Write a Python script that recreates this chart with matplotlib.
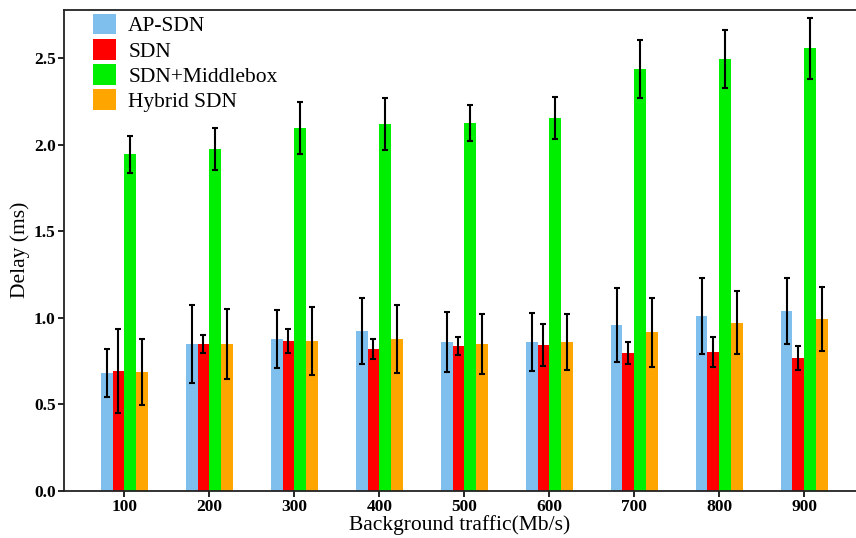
import matplotlib
matplotlib.use("Agg")
import matplotlib.pyplot as plt
import numpy as np

categories = ["100", "200", "300", "400", "500", "600", "700", "800", "900"]
series_names = ["AP-SDN", "SDN", "SDN+Middlebox", "Hybrid SDN"]

ap_sdn = [0.682, 0.849, 0.878, 0.924, 0.861, 0.861, 0.959, 1.011, 1.040]
ap_sdn_err = [0.140, 0.226, 0.166, 0.190, 0.175, 0.170, 0.216, 0.222, 0.190]
sdn = [0.693, 0.849, 0.867, 0.820, 0.838, 0.843, 0.797, 0.803, 0.768]
sdn_err = [0.245, 0.054, 0.070, 0.060, 0.054, 0.120, 0.062, 0.086, 0.068]
sdn_mb = [1.947, 1.976, 2.097, 2.120, 2.127, 2.155, 2.438, 2.496, 2.559]
sdn_mb_err = [0.107, 0.124, 0.152, 0.152, 0.103, 0.123, 0.169, 0.170, 0.176]
hybrid = [0.687, 0.849, 0.867, 0.878, 0.849, 0.861, 0.918, 0.971, 0.994]
hybrid_err = [0.190, 0.200, 0.198, 0.199, 0.172, 0.163, 0.200, 0.182, 0.184]

values = [ap_sdn, sdn, sdn_mb, hybrid]
errors = [ap_sdn_err, sdn_err, sdn_mb_err, hybrid_err]
colors = ["#7fbfee", "#ff0000", "#00ee00", "#ffa500"]

plt.rcParams['font.family'] = ['Liberation Serif', 'DejaVu Serif']

fig = plt.figure(figsize=(8.56, 5.38), dpi=100)
ax = fig.add_axes([64/856, 47/538, 1 - 64/856, (491 - 9.5)/538])

x = np.arange(len(categories))
w = 0.138
for i, (vals, errs, c, name) in enumerate(zip(values, errors, colors, series_names)):
    ax.bar(x + (i - 1.5) * w, vals, w, color=c, label=name, zorder=2)
    ax.errorbar(x + (i - 1.5) * w, vals, yerr=errs, fmt='none', ecolor='black',
                elinewidth=1.5, capsize=2, capthick=1.5, zorder=3)

ax.set_xlim(-0.71, 8.61)
ax.set_ylim(0, 2.782)
ax.set_xticks(x)
ax.set_xticklabels(categories, fontweight='bold', fontsize=12.5)
ax.set_yticks([0.0, 0.5, 1.0, 1.5, 2.0, 2.5])
ax.set_yticklabels(["0.0", "0.5", "1.0", "1.5", "2.0", "2.5"], fontweight='bold', fontsize=12.5)
ax.tick_params(axis='both', direction='out', length=4, width=1.2, pad=2)
ax.set_xlabel("Background traffic(Mb/s)", fontsize=15.5, labelpad=0)
ax.set_ylabel("Delay (ms)", fontsize=15.5, labelpad=3)

for s in ['left', 'bottom', 'top']:
    ax.spines[s].set_linewidth(1.3)
    ax.spines[s].set_color('#222222')
ax.spines['right'].set_visible(False)

leg = ax.legend(loc='upper left', bbox_to_anchor=(0.02, 1.018), frameon=False,
                fontsize=15.5, handlelength=1.1, handleheight=1.1,
                labelspacing=0.12, handletextpad=0.55, borderaxespad=0.2)

fig.savefig("out.png", dpi=100)
